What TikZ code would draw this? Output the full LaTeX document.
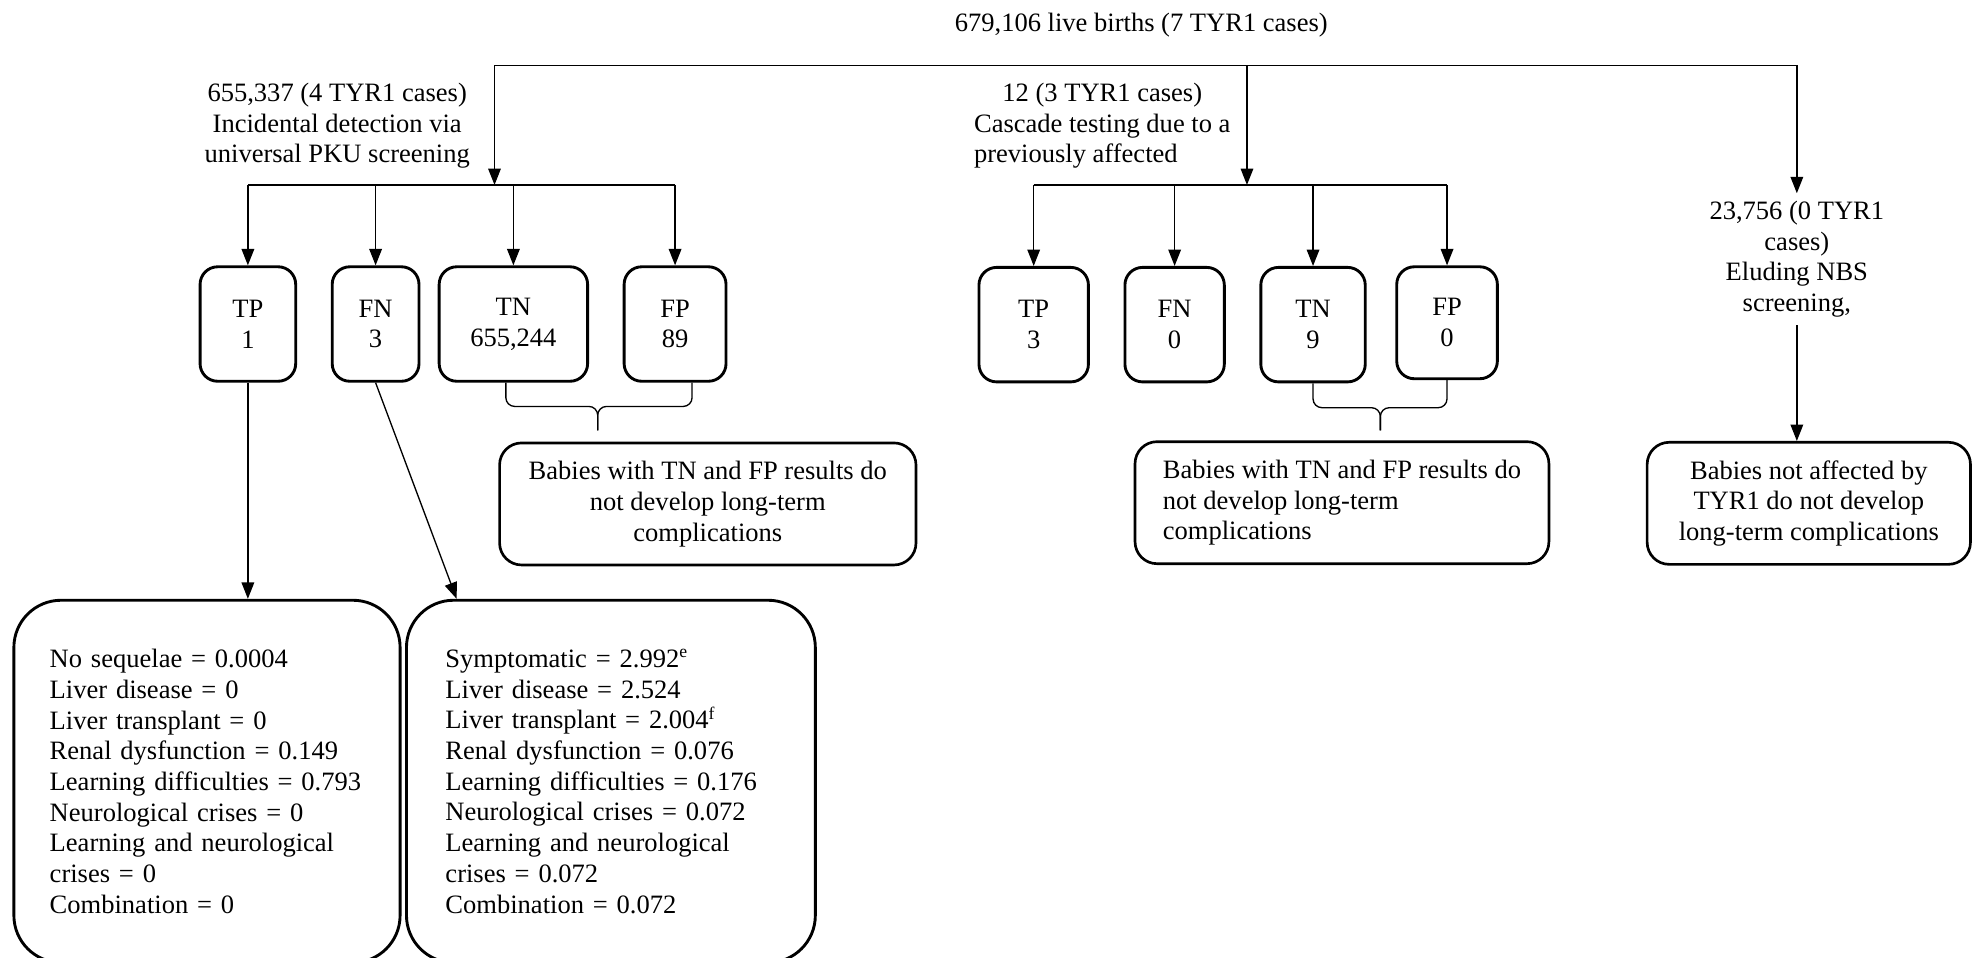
\documentclass[tikz,border=0pt]{standalone}
\usepackage{fontspec}
\setmainfont{Liberation Serif}
\usepackage{tikz}
\usetikzlibrary{arrows.meta}

\begin{document}
\begin{tikzpicture}[x=0.02cm, y=-0.02cm, font=\fontsize{12pt}{13.9pt}\selectfont]
			\tikzstyle{Result}	= [rectangle, draw, line width=1.3pt, rounded corners=0.28cm, align=center, inner sep=0pt, minimum height=1.82cm]
			\tikzstyle{Outcome}	= [rectangle, draw, line width=1.3pt, rounded corners=0.75cm, align=left, inner ysep=0pt, minimum height=5.76cm]
			\tikzstyle{Note}	= [rectangle, draw, line width=1.2pt, rounded corners=0.35cm, inner sep=0pt, minimum height=1.94cm]
			\tikzstyle{Head}	= [align=center]
			\tikzstyle{Arrow}	= [-{Triangle[length=0.26cm, width=0.2cm]}, line width=0.6pt]
			\tikzstyle{Bar}		= [line width=0.6pt]
			\tikzstyle{Brace}	= [line width=0.6pt, rounded corners=4pt]

			\clip (0,0) rectangle (1568,761);

			\node (h0) at (907,20) [Head] {679,106 live births (7 TYR1 cases)};
			\node (h1) at (268,100) [Head] {655,337 (4 TYR1 cases)\\Incidental detection via\\universal PKU screening};
			\node (h2) at (876,100) [Head, align=left] {\hspace*{1.07em}12 (3 TYR1 cases)\\Cascade testing due to a\\previously affected};
			\node (h3) at (1428,206) [Head] {23,756 (0 TYR1\\cases)\\Eluding NBS\\screening,};

			\node (tp1) at (197,257.5) [Result, minimum width=1.52cm] {TP\\1};
			\node (fn1) at (298.5,257.5) [Result, minimum width=1.38cm] {FN\\3};
			\node (tn1) at (408,257.5) [Result, minimum width=2.36cm] {TN\\655,244};
			\node (fp1) at (536.5,257.5) [Result, minimum width=1.62cm] {FP\\89};
			\node (tp2) at (821.5,258) [Result, minimum width=1.74cm] {TP\\3};
			\node (fn2) at (933.5,258) [Result, minimum width=1.58cm] {FN\\0};
			\node (tn2) at (1043.5,258) [Result, minimum width=1.66cm] {TN\\9};
			\node (fp2) at (1150,256.5) [Result, minimum width=1.6cm, minimum height=1.78cm] {FP\\0};

			\node (note1) at (562.5,400.5) [Note, align=center, minimum width=6.62cm] {Babies with TN and FP results do\\not develop long-term\\complications};
			\node (note2) at (1066.5,399.5) [Note, align=left, minimum width=6.58cm] {Babies with TN and FP results do\\not develop long-term\\complications};
			\node (note3) at (1437.5,400) [Note, align=center, minimum width=5.14cm] {Babies not affected by\\TYR1 do not develop\\long-term complications};

			\node (out1) at (164.5,621) [Outcome, text width=5.0cm, inner xsep=0.57cm] {No sequelae = 0.0004\\Liver disease = 0\\Liver transplant = 0\\Renal dysfunction = 0.149\\Learning difficulties = 0.793\\Neurological crises = 0\\Learning and neurological\\crises = 0\\Combination = 0};
			\node (out2) at (485.5,621) [Outcome, text width=5.26cm, inner xsep=0.62cm] {Symptomatic = 2.992\textsuperscript{e}\\Liver disease = 2.524\\Liver transplant = 2.004\textsuperscript{f}\\Renal dysfunction = 0.076\\Learning difficulties = 0.176\\Neurological crises = 0.072\\Learning and neurological\\crises = 0.072\\Combination = 0.072};

			\coordinate (b0) at (393,52);
			\coordinate (b1) at (991,52);
			\coordinate (b2) at (1428,52);
			\coordinate (j1) at (393,147);
			\coordinate (j2) at (991,147);
			\coordinate (k1) at (475,323);
			\coordinate (k2) at (1097,324);

			\draw [Bar] (b0) -- (b2);
			\draw [Arrow] (b0) -- (j1);
			\draw [Arrow] (b1) -- (j2);
			\draw [Arrow] (b2) -- (h3.north);

			\draw [Bar] (tp1 |- j1) -- (fp1 |- j1);
			\draw [Arrow] (tp1 |- j1) -- (tp1.north);
			\draw [Arrow] (fn1 |- j1) -- (fn1.north);
			\draw [Arrow] (tn1 |- j1) -- (tn1.north);
			\draw [Arrow] (fp1 |- j1) -- (fp1.north);

			\draw [Bar] (tp2 |- j2) -- (fp2 |- j2);
			\draw [Arrow] (tp2 |- j2) -- (tp2.north);
			\draw [Arrow] (fn2 |- j2) -- (fn2.north);
			\draw [Arrow] (tn2 |- j2) -- (tn2.north);
			\draw [Arrow] (fp2 |- j2) -- (fp2.north);

			\draw [Brace, shorten >=0.18cm] ([xshift=-0.12cm]tn1.south) |- (k1) -- (k1 |- note1.north);
			\draw [Brace, shorten >=0.18cm] ([xshift=0.27cm]fp1.south) |- (k1) -- (k1 |- note1.north);
			\draw [Brace, shorten >=0.16cm] (tn2.south) |- (k2) -- (k2 |- note2.north);
			\draw [Brace, shorten >=0.16cm] (fp2.south) |- (k2) -- (k2 |- note2.north);

			\draw [Arrow] (tp1.south) -- (tp1.south |- out1.north);
			\draw [Arrow] (fn1.south) -- ([xshift=0.82cm]out2.north west);
			\draw [Arrow] (h3.south) -- (h3.south |- note3.north);
\end{tikzpicture}
\end{document}
